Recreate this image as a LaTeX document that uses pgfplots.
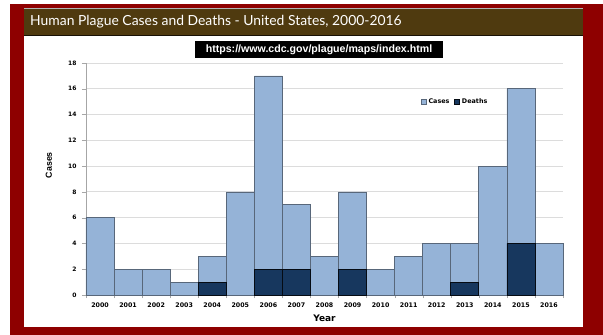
\documentclass[border=0pt]{standalone}
\usepackage{fontspec}
\setmainfont{Liberation Sans}
\newfontfamily\dejavu{DejaVu Sans}
\newfontfamily\lato{Lato}
\usepackage{pgfplots}
\pgfplotsset{compat=1.18}
\definecolor{frame}{HTML}{8E0000}
\definecolor{titlebar}{HTML}{4F3A0F}
\definecolor{casecol}{HTML}{95B3D7}
\definecolor{caseedge}{HTML}{58677A}
\definecolor{deathcol}{HTML}{17375E}
\definecolor{gridc}{HTML}{DCDCDC}
\definecolor{axc}{HTML}{A6A6A6}
\begin{document}
\begin{tikzpicture}[x=1pt,y=1pt]
% backgrounds (pixel layout, y flipped: Y = 335 - py)
\fill[white] (0,0) rectangle (603,335);
\fill[frame] (10,0) rectangle (603,331);
\fill[white] (24,8) rectangle (583,299);
\fill[titlebar] (24,299) rectangle (583,327);
\draw[gray!60, line width=1pt] (24,326.5) -- (583,326.5);
\draw[black!70!titlebar, line width=0.8pt] (24,299.4) -- (583,299.4);
\node[anchor=west, text=white, font=\lato\fontsize{13.9}{15}\selectfont, inner sep=0pt] at (30,313.5) {Human Plague Cases and Deaths - United States, 2000-2016};
\fill[black] (195,277) rectangle (443,294);
\node[text=white, font=\bfseries\fontsize{10.6}{12}\selectfont, inner sep=0pt] at (319,285.5) {https://www.cdc.gov/plague/maps/index.html};
\begin{axis}[
  at={(86pt,40pt)}, anchor=south west,
  scale only axis, width=477pt, height=232pt,
  xmin=-0.5, xmax=16.5, ymin=0, ymax=18,
  ytick={0,2,...,18},
  xtick={0,...,16},
  xticklabels={2000,2001,2002,2003,2004,2005,2006,2007,2008,2009,2010,2011,2012,2013,2014,2015,2016},
  minor xtick={-0.5,0.5,...,16.5},
  major x tick style={draw=none},
  minor x tick style={draw=axc},
  minor tick length=3pt,
  major tick length=4pt,
  y tick style={draw=axc},
  tick align=outside, tick pos=left,
  axis x line*=bottom, axis y line*=left,
  axis line style={draw=axc, line width=0.8pt},
  ymajorgrids, grid style={draw=gridc, line width=0.8pt},
  /pgf/number format/assume math mode=true,
  tick label style={font=\dejavu\bfseries\fontsize{6}{7}\selectfont},
  xticklabel style={font=\dejavu\bfseries\fontsize{6.3}{7}\selectfont},
  yticklabel style={xshift=-2pt},
  xlabel={Year}, ylabel={Cases},
  xlabel style={font=\dejavu\bfseries\fontsize{9}{10}\selectfont, at={(rel axis cs:0.5,-0.099)}, anchor=center},
  ylabel style={font=\bfseries\fontsize{8.8}{10}\selectfont, at={(rel axis cs:-0.078,0.56)}, anchor=center, rotate=0},
  bar width=1, ybar, bar shift=0pt,
  legend style={at={(rel axis cs:0.774,0.832)}, anchor=center, draw=none, fill=none,
    font=\dejavu\bfseries\fontsize{6.4}{7}\selectfont, legend columns=2,
    /tikz/every even column/.append style={column sep=3pt}},
  legend image code/.code={\draw[#1] (0pt,-2.4pt) rectangle (4.8pt,2.4pt);},
  clip=false,
]
\addplot[fill=casecol, draw=caseedge, line width=0.7pt] coordinates {
 (0,6) (1,2) (2,2) (3,1) (4,3) (5,8) (6,17) (7,7) (8,3) (9,8) (10,2) (11,3) (12,4) (13,4) (14,10) (15,16) (16,4)};
\addplot[fill=deathcol, draw=black!80!deathcol, line width=0.7pt] coordinates {
 (4,1) (6,2) (7,2) (9,2) (13,1) (15,4)};
\legend{Cases,Deaths}
\end{axis}
\end{tikzpicture}
\end{document}
